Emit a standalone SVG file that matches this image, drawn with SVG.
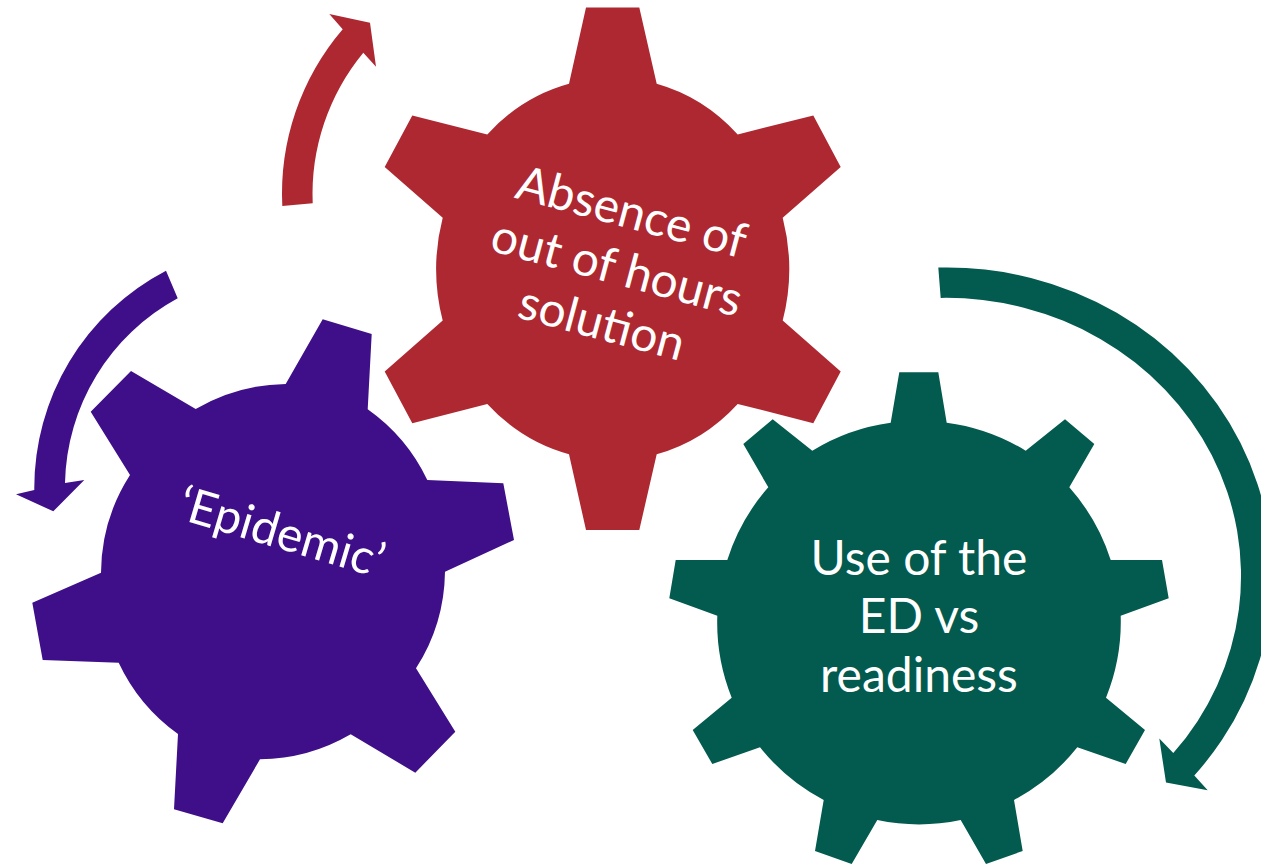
<svg xmlns="http://www.w3.org/2000/svg" width="1261" height="865" viewBox="0 0 1261 865">
<style>
.lbl{font-family:Lato,"Open Sans","Liberation Sans",sans-serif;font-size:48px;fill:#FFFFFF;text-anchor:middle}
.red{fill:#AE2831}
.purple{fill:#3E0F88}
.green{fill:#035A4E}
</style>
<rect width="1261" height="865" fill="#FFFFFF"/>
<g id="connectors">
<path id="arrow-red" class="red" d="M282.3,206 A253,253 0 0 1 342.7,29.3 L329.3,14 L370,22.7 L376,66.7 L363.3,52.7 A222.5,222.5 0 0 0 312.7,203.3 Z"/>
<path id="arrow-purple" class="purple" d="M166,270.7 A245,245 0 0 0 34.3,490 L16,494.3 L53.3,511.3 L84.3,480 L65,483 A215,215 0 0 1 177.7,298.3 Z"/>
<path id="arrow-green" class="green" d="M938.3,267.6 A325,308 0 0 1 1194.3,775.5 L1207.7,790.3 L1166,782.4 L1159.3,738.6 L1173.3,753.1 A295,278 0 0 0 940.7,297.9 Z"/>
</g>
<g id="gear-red">
<path class="red" d="M569,83.7 L586,7.6 L639.3,7.6 L656.7,83.7 A176,191 0 0 1 737.7,134.4 L813.3,115.4 L840.7,167.1 L782.7,217.8 A176,191 0 0 1 782.7,320.5 L840.7,371.5 L813.3,423.2 L737.7,403.9 A176,191 0 0 1 656.7,454.2 L639.3,530 L586,530 L569,454.2 A176,191 0 0 1 487.3,403.9 L412.3,423.2 L384.7,371.5 L442.7,320.5 A176,191 0 0 1 442.7,217.8 L384.7,167.1 L412.3,115.4 L487.3,134.4 A176,191 0 0 1 569,83.7 Z"/>
<g transform="translate(612.5,283.5) rotate(15)">
<text class="lbl" x="0" y="-57.5">Absence of</text>
<text class="lbl" x="0" y="0">out of hours</text>
<text class="lbl" x="0" y="57.5">solution</text>
</g>
</g>
<g id="gear-purple">
<path class="purple" d="M285.7,384 L322.7,319.3 L371.7,334 L367.7,409.3 A183,183 0 0 1 427.3,480 L503.3,483.3 L514,540 L445,571.7 A183,183 0 0 1 416,668.3 L455.3,731.7 L415.3,772.7 L350.7,734.3 A183,183 0 0 1 260,759.3 L222.7,823.3 L174,809.3 L178,734 A183,183 0 0 1 118.7,662.7 L42.7,660 L32.3,602.7 L101,572.7 A183,183 0 0 1 130,475 L90.7,411.7 L131,371 L195.7,409 A183,183 0 0 1 285.7,384 Z"/>
<text class="lbl" transform="translate(277,548) rotate(16.5)" x="0" y="0">‘Epidemic’</text>
</g>
<g id="gear-green">
<path class="green" d="M890.7,422.7 L899.3,372.3 L938.3,372.3 L946.7,422.7 A202,202 0 0 1 1025.7,450.7 L1065,419.3 L1094.3,444 L1069.3,487.3 A202,202 0 0 1 1110.7,560 L1162,560 L1168.7,598.3 L1120.7,615.7 A202,202 0 0 1 1106,697.7 L1145,730 L1125.7,764 L1077.3,747.3 A202,202 0 0 1 1014,800 L1022.7,851 L986,864 L960.7,820 A202,202 0 0 1 877.3,820 L851.7,864 L815,851 L823.7,800 A202,202 0 0 1 760,747.3 L712.3,764 L692.7,730 L731.7,697.7 A202,202 0 0 1 717.3,615.7 L669.3,598.3 L675.7,560 L727.3,560 A202,202 0 0 1 768.3,487.3 L743.3,444 L772.7,419.3 L812.3,450.7 A202,202 0 0 1 890.7,422.7 Z"/>
<text class="lbl" x="919" y="575">Use of the</text>
<text class="lbl" x="919" y="633.3">ED vs</text>
<text class="lbl" x="919" y="691.7">readiness</text>
</g>
</svg>
